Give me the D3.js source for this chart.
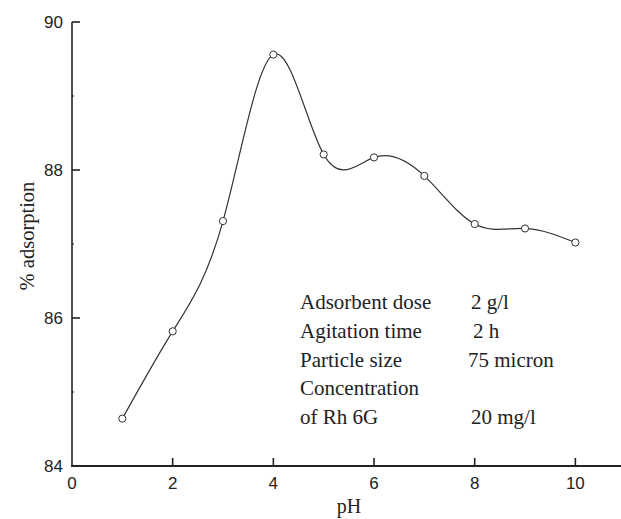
<!DOCTYPE html>
<html>
<head>
<meta charset="utf-8">
<script src="https://cdn.jsdelivr.net/npm/d3@7"></script>
<style>
  body { margin: 0; background: #fff; }
  svg { display: block; }
</style>
</head>
<body>
<div id="chart"></div>
<script>
// pH vs % adsorption
const phValues = [1, 2, 3, 4, 5, 6, 7, 8, 9, 10];
const adsorption = [84.64, 85.82, 87.31, 89.56, 88.21, 88.17, 87.92, 87.27, 87.21, 87.02];
const xTicks = [0, 2, 4, 6, 8, 10];
const yTicks = [84, 86, 88, 90];
const yMinorTicks = [85, 87, 89];
const condLabels = ["Adsorbent dose", "Agitation time", "Particle size", "Concentration", "of Rh 6G"];
const condValues = ["2 g/l", "2 h", "75 micron", "", "20 mg/l"];

let dim = { width: 621, height: 519 };

let svg = d3.select('#chart').append('svg')
    .attr('width', dim.width)
    .attr('height', dim.height);

let x = d3.scaleLinear().domain([0, 11]).range([72, 625.7]);
let y = d3.scaleLinear().domain([84, 90]).range([466, 22]);

const ink = '#222';
const sans = "'Liberation Sans', Arial, sans-serif";
const serif = "'Liberation Serif', 'Times New Roman', serif";

// axes lines
svg.append('line')
    .attr('x1', x(0)).attr('x2', x(0))
    .attr('y1', y(90)).attr('y2', y(84) + 1)
    .attr('stroke', ink).attr('stroke-width', 1.6);
svg.append('line')
    .attr('x1', x(0) - 0.8).attr('x2', dim.width)
    .attr('y1', y(84)).attr('y2', y(84))
    .attr('stroke', ink).attr('stroke-width', 2);

// y ticks (inside)
svg.selectAll('.ytick').data(yTicks).join('line')
    .attr('class', 'ytick')
    .attr('x1', x(0)).attr('x2', x(0) + 8)
    .attr('y1', d => y(d)).attr('y2', d => y(d))
    .attr('stroke', ink).attr('stroke-width', 1.6);
svg.selectAll('.yminor').data(yMinorTicks).join('line')
    .attr('class', 'yminor')
    .attr('x1', x(0)).attr('x2', x(0) + 2)
    .attr('y1', d => y(d)).attr('y2', d => y(d))
    .attr('stroke', ink).attr('stroke-width', 1);
svg.selectAll('.ylabel').data(yTicks).join('text')
    .attr('class', 'ylabel')
    .attr('x', x(0) - 9).attr('y', d => y(d))
    .attr('dy', '0.36em')
    .attr('text-anchor', 'end')
    .style('font-family', sans).style('font-size', '17px').attr('fill', ink)
    .text(d => d);

// x ticks (inside)
svg.selectAll('.xtick').data(xTicks.filter(d => d > 0)).join('line')
    .attr('class', 'xtick')
    .attr('x1', d => x(d)).attr('x2', d => x(d))
    .attr('y1', y(84)).attr('y2', y(84) - 8)
    .attr('stroke', ink).attr('stroke-width', 1.6);
svg.selectAll('.xlabel').data(xTicks).join('text')
    .attr('class', 'xlabel')
    .attr('x', d => x(d)).attr('y', 489)
    .attr('text-anchor', 'middle')
    .style('font-family', sans).style('font-size', '17px').attr('fill', ink)
    .text(d => d);

// axis titles
svg.append('text')
    .attr('x', 349).attr('y', 513)
    .attr('text-anchor', 'middle')
    .style('font-family', serif).style('font-size', '20px').attr('fill', ink)
    .text('pH');
svg.append('text')
    .attr('transform', 'translate(34,236) rotate(-90)')
    .attr('text-anchor', 'middle')
    .style('font-family', serif).style('font-size', '20.5px').attr('fill', ink)
    .text('% adsorption');

// curve
let pts = phValues.map((p, i) => [p, adsorption[i]]);
let line = d3.line()
    .x(d => x(d[0]))
    .y(d => y(d[1]))
    .curve(d3.curveNatural);
svg.append('path')
    .datum(pts)
    .attr('d', line)
    .attr('fill', 'none')
    .attr('stroke', '#333')
    .attr('stroke-width', 1.2);

svg.selectAll('.pt').data(pts).join('circle')
    .attr('class', 'pt')
    .attr('cx', d => x(d[0])).attr('cy', d => y(d[1]))
    .attr('r', 3.6)
    .attr('fill', '#fff')
    .attr('stroke', '#333')
    .attr('stroke-width', 1);

// experimental conditions
let rowY = d3.scaleLinear().domain([0, 4]).range([309, 424]);
svg.selectAll('.condL').data(condLabels).join('text')
    .attr('class', 'condL')
    .attr('x', 300).attr('y', (d, i) => rowY(i))
    .style('font-family', serif).style('font-size', '21px').attr('fill', ink)
    .text(d => d);
svg.selectAll('.condV').data(condValues).join('text')
    .attr('class', 'condV')
    .attr('x', (d, i) => [471, 473, 468, 471, 471][i]).attr('y', (d, i) => rowY(i))
    .style('font-family', serif).style('font-size', '21px').attr('fill', ink)
    .text(d => d);
</script>
</body>
</html>
